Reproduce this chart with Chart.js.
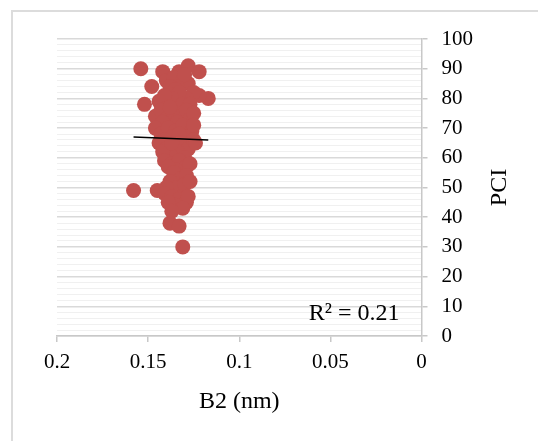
<!DOCTYPE html>
<html>
<head>
<meta charset="utf-8">
<script src="https://cdn.jsdelivr.net/npm/chart.js@4/dist/chart.umd.min.js"></script>
<style>
  html, body { margin: 0; padding: 0; background: #fff; overflow: hidden; }
  #wrap { position: relative; width: 538px; height: 441px; }
  #frame { position: absolute; left: 11px; top: 10px; width: 600px; height: 500px;
           border-left: 2px solid #dcdcdc; border-top: 2px solid #dcdcdc; pointer-events: none; }
  canvas { position: absolute; left: 0; top: 0; }
</style>
</head>
<body>
<div id="wrap">
  <div id="frame"></div>
  <canvas id="chart" width="538" height="441"></canvas>
</div>
<script>
// B2 (nm) vs PCI
const b2 = [
  0.154, 0.142, 0.133, 0.128, 0.122,
  0.140, 0.136, 0.131, 0.128, 0.134, 0.138, 0.148, 0.130, 0.135,
  0.152, 0.117, 0.122, 0.125, 0.129, 0.133, 0.137, 0.141, 0.144, 0.131, 0.127, 0.139,
  0.146, 0.143, 0.140, 0.136, 0.132, 0.129, 0.127, 0.134, 0.138, 0.142, 0.125,
  0.146, 0.143, 0.139, 0.135, 0.131, 0.126, 0.129, 0.137, 0.141, 0.133, 0.125,
  0.144, 0.140, 0.136, 0.132, 0.128, 0.125, 0.134, 0.138, 0.130, 0.142, 0.124, 0.137,
  0.141, 0.137, 0.133, 0.129, 0.127, 0.135, 0.139,
  0.136, 0.132, 0.129, 0.138, 0.134, 0.130, 0.140, 0.127,
  0.158, 0.145, 0.141, 0.137, 0.133, 0.129, 0.128, 0.135, 0.139, 0.131, 0.137,
  0.138, 0.133, 0.131
];
const pci = [
  90, 89, 89, 91, 89,
  86, 87, 86, 85, 84, 84, 84, 88, 83,
  78, 80, 81, 82, 80, 82, 80, 81, 79, 78, 78, 77,
  74, 76, 73, 75, 74, 76, 73, 72, 77, 72, 75,
  70, 68, 70, 69, 71, 69, 67, 67, 66, 68, 71,
  65, 63, 64, 65, 63, 66, 62, 61, 60, 62, 65, 65,
  59, 58, 59, 57, 58, 56, 57,
  55, 53, 54, 52, 50, 51, 50, 52,
  49, 49, 48, 47, 46, 45, 47, 44, 45, 43, 42,
  38, 37, 30
];
// linear trendline end points
const trendX = [0.158, 0.117];
const trendY = [67, 66];
const rSquared = 'R² = 0.21';

const SERIF = "'Liberation Serif', 'Times New Roman', serif";

const points = b2.map((x, i) => ({ x, y: pci[i] }));
const trend = trendX.map((x, i) => ({ x, y: trendY[i] }));

const extras = {
  id: 'extras',
  afterDraw(chart) {
    const { ctx, chartArea } = chart;
    ctx.save();
    ctx.fillStyle = '#000';
    ctx.font = '24px ' + SERIF;
    // R² label
    ctx.textAlign = 'right';
    ctx.textBaseline = 'alphabetic';
    ctx.fillText(rSquared, chartArea.right - 22, chartArea.bottom - 16);
    // y title, reading upward
    ctx.translate(500, (chartArea.top + chartArea.bottom) / 2);
    ctx.rotate(-Math.PI / 2);
    ctx.textAlign = 'center';
    ctx.textBaseline = 'middle';
    ctx.fillText('PCI', 0, 0);
    ctx.restore();
  }
};

new Chart(document.getElementById('chart'), {
  type: 'scatter',
  data: {
    datasets: [
      {
        type: 'line',
        data: trend,
        borderColor: '#000',
        borderWidth: 1.5,
        pointRadius: 0,
        fill: false
      },
      {
        data: points,
        backgroundColor: '#C0504D',
        borderWidth: 0,
        pointRadius: 7.5,
        pointHoverRadius: 7.5
      }
    ]
  },
  options: {
    responsive: false,
    animation: false,
    layout: { padding: { left: 57, top: 39, right: 51, bottom: 25 } },
    plugins: { legend: { display: false }, tooltip: { enabled: false } },
    scales: {
      x: {
        type: 'linear',
        min: 0, max: 0.2,
        reverse: true,
        border: { display: true, color: '#c8c8c8', width: 1.5 },
        grid: { drawOnChartArea: false, drawTicks: true, tickLength: 6, tickColor: '#c8c8c8', lineWidth: 1.5 },
        ticks: {
          stepSize: 0.05,
          padding: 8,
          color: '#000',
          font: { family: SERIF, size: 21 },
          callback: v => String(parseFloat(v.toFixed(2)))
        },
        title: {
          display: true,
          text: 'B2 (nm)',
          color: '#000',
          font: { family: SERIF, size: 24 },
          padding: { top: 4, bottom: 0 }
        }
      },
      y: {
        type: 'linear',
        position: 'right',
        min: 0, max: 100,
        border: { display: true, color: '#c8c8c8', width: 1.5 },
        grid: {
          tickLength: 6,
          color: c => c.tick.value % 10 === 0 ? '#d9d9d9' : '#f0f0f0',
          lineWidth: c => c.tick.value % 10 === 0 ? 1.5 : 1,
          tickColor: c => c.tick.value % 10 === 0 ? '#c8c8c8' : 'rgba(0,0,0,0)'
        },
        ticks: {
          stepSize: 2,
          autoSkip: false,
          padding: 14,
          color: '#000',
          font: { family: SERIF, size: 21 },
          callback: v => v % 10 === 0 ? String(v) : ''
        }
      }
    }
  },
  plugins: [extras]
});
</script>
</body>
</html>
